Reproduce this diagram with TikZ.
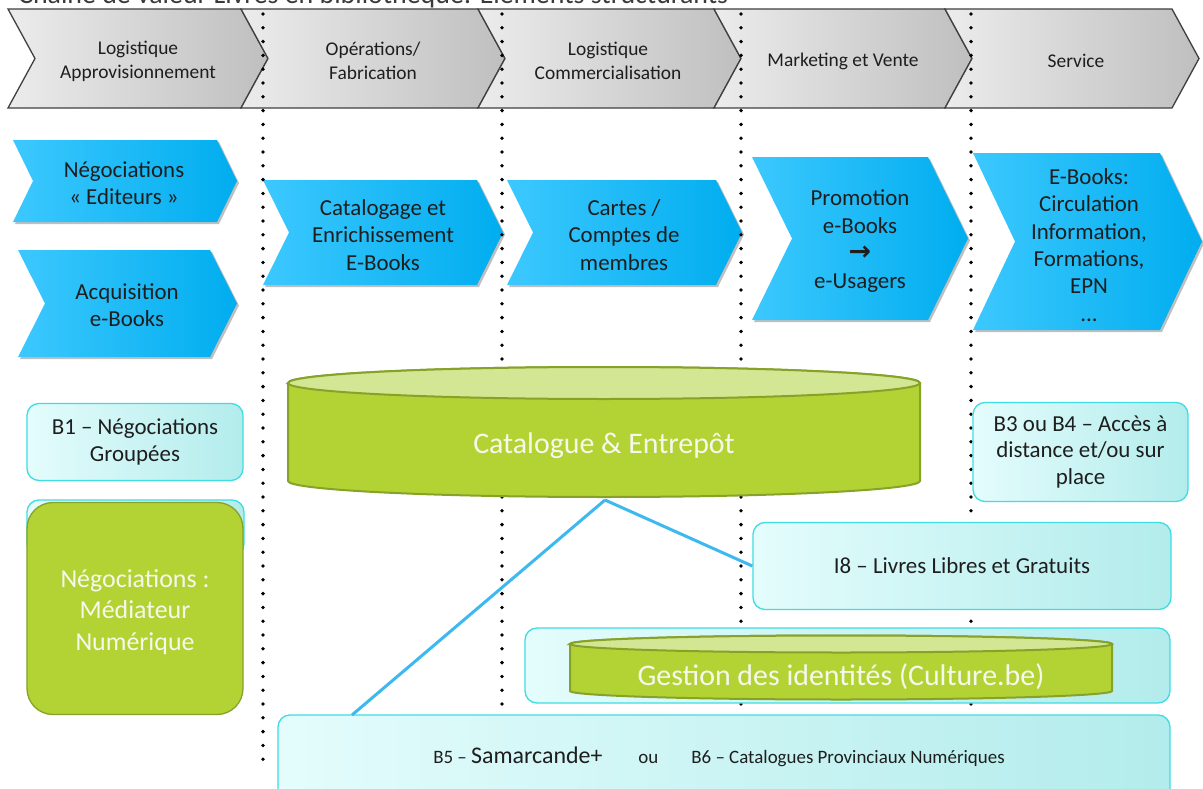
\documentclass[tikz,border=0pt]{standalone}
\usepackage{fontspec}
\setmainfont{Carlito}
\newfontfamily\symfont{DejaVu Sans}
\usetikzlibrary{shadows}
\definecolor{hdrA}{HTML}{ECECEC}
\definecolor{hdrB}{HTML}{BFBFBF}
\definecolor{hdrLine}{HTML}{404040}
\definecolor{blueA}{HTML}{3CC8FE}
\definecolor{blueB}{HTML}{00ADEF}
\definecolor{cyanA}{HTML}{E4FCFC}
\definecolor{cyanM}{HTML}{DAF9F9}
\definecolor{cyanB}{HTML}{B3ECEC}
\definecolor{cyanLine}{HTML}{3EDDE2}
\definecolor{greenF}{HTML}{B3D335}
\definecolor{greenTop}{HTML}{D3E694}
\definecolor{greenLine}{HTML}{86A229}
\definecolor{linkBlue}{HTML}{3DB9EF}
\definecolor{txt}{HTML}{1E1E1E}
\definecolor{titleGray}{HTML}{3A3A3A}
\definecolor{whiteTxt}{HTML}{F6F8EC}
\newcommand\chev[6]{%
  \draw[#6] (#1,#3) -- (#2,#3) -- ({#2+#5},{(#3+#4)/2}) -- (#2,#4) -- (#1,#4) -- ({#1+#5},{(#3+#4)/2}) -- cycle;}
\newcommand\cyl[5]{%
  \draw[cylbody] ({#1-#4},#2) -- ({#1-#4},#3) arc[start angle=180,end angle=360,x radius=#4bp,y radius=#5bp] -- ({#1+#4},#2) arc[start angle=0,end angle=180,x radius=#4bp,y radius=#5bp] -- cycle;
  \draw[cyltop] (#1,#2) ellipse[x radius=#4bp,y radius=#5bp];}
\begin{document}
\begin{tikzpicture}[x=1bp,y=-1bp,
  hdr/.style={draw=hdrLine,line width=1.3bp,left color=hdrA,right color=hdrB},
  bchev/.style={draw=none,left color=blueA,right color=blueB,
    drop shadow={shadow xshift=2bp,shadow yshift=-2bp,opacity=0.25,fill=black}},
  htext/.style={align=center,text=txt,font=\fontsize{19.5}{24}\selectfont,inner sep=0pt},
  btext/.style={align=center,text=txt,font=\fontsize{23}{27.5}\selectfont,inner sep=0pt},
  cbox/.style={draw=cyanLine,line width=1.3bp,rounded corners=12bp,left color=cyanA,middle color=cyanM,right color=cyanB,
    align=center,text=txt,font=\fontsize{23}{27}\selectfont,inner sep=0pt},
  gbox/.style={draw=greenLine,line width=1.3bp,rounded corners=26bp,fill=greenF,inner sep=0pt},
  gtext/.style={align=center,text=whiteTxt,font=\fontsize{26}{31.5}\selectfont,inner sep=0pt},
  cylbody/.style={draw=greenLine,line width=2bp,fill=greenF},
  cyltop/.style={draw=greenLine,line width=2bp,fill=greenTop},
  cyltext/.style={text=whiteTxt,font=\fontsize{30}{34}\selectfont,inner sep=0pt},
  dotline/.style={draw=black,line width=3.8bp,line cap=round,dash pattern=on 0bp off 13.8bp},
  link/.style={draw=linkBlue,line width=3bp}]
\useasboundingbox (0,0) rectangle (1203,789);
\fill[white] (0,0) rectangle (1203,789);
% title (cut at top edge, as in the reference)
\node[anchor=base west,inner sep=0pt,text=titleGray,font=\fontsize{28}{30}\selectfont] (title) at (18,4)
  {Chaîne de valeur Livres en bibliothèque: Eléments structurants};
% header chevrons
\chev{8}{241}{9}{108}{27}{hdr}
\chev{241}{478}{9}{108}{27}{hdr}
\chev{478}{714}{9}{108}{27}{hdr}
\chev{714}{945}{9}{108}{27}{hdr}
\chev{945}{1172}{9}{108}{27}{hdr}
\node[htext] (h1) at (138,61) {Logistique\\Approvisionnement};
\node[htext] (h2) at (373,61) {Opérations/\\Fabrication};
\node[htext] (h3) at (608,61) {Logistique\\Commercialisation};
\node[htext] (h4) at (843,61) {Marketing et Vente};
\node[htext] (h5) at (1076,61) {Service};
% blue chevrons
\chev{13}{217}{140}{222}{20}{bchev}
\chev{18}{210}{250}{357}{27}{bchev}
\chev{263}{477}{180}{285}{26}{bchev}
\chev{507}{716}{180}{285}{26}{bchev}
\chev{752}{928}{157}{320}{40}{bchev}
\chev{973}{1160}{153}{330}{42}{bchev}
\node[btext] (c1) at (124,183) {Négociations\\« Editeurs »};
\node[btext] (c2) at (127,305) {Acquisition\\e-Books};
\node[btext] (c3) at (383,235) {Catalogage et\\Enrichissement\\E-Books};
\node[btext] (c4) at (624,235) {Cartes /\\Comptes de\\membres};
\node[btext] (c5) at (860,241) {Promotion\\e-Books\\{\symfont\bfseries\fontsize{27}{27.5}\selectfont →}\\e-Usagers};
\node[btext] (c6) at (1089,245) {E-Books:\\Circulation\\Information,\\Formations,\\EPN\\...};
% dotted separators
\foreach \x in {263,502,741,971} \draw[dotline] (\x,14) -- (\x,766);
% left column
\node[cbox,minimum width=216bp,minimum height=77bp] (b1) at (135,442) {B1 – Négociations\\Groupées};
\node[cbox,minimum width=217bp,minimum height=56bp] (b2) at (135.5,528) {};
\node[gbox,minimum width=216bp,minimum height=212bp] (med) at (135,608.5) {};
\node[gtext] (medt) at (135,612) {Négociations :\\Médiateur\\Numérique};
% right boxes
\node[cbox,minimum width=215bp,minimum height=99bp] (b34) at (1080.5,452) {B3 ou B4 – Accès à\\distance et/ou sur\\place};
\node[cbox,minimum width=418bp,minimum height=87bp] (i8) at (962,566) {I8 – Livres Libres et Gratuits};
\node[cbox,minimum width=645bp,minimum height=75bp] (gbx) at (847.5,665.5) {};
\node[cbox,minimum width=892bp,minimum height=100bp] (b5) at (724,765) {};
\node[text=txt,inner sep=0pt,anchor=base] (b5t) at (719,763)
  {{\fontsize{19}{22}\selectfont B5 – }{\fontsize{24}{22}\selectfont Samarcande+}\hspace{36bp}{\fontsize{19}{22}\selectfont ou}\hspace{33bp}{\fontsize{19}{22}\selectfont B6 – Catalogues Provinciaux Numériques}};
% cylinders
\cyl{604}{383}{481}{316}{16}
\node[cyltext] (cat) at (604,446) {Catalogue \& Entrepôt};
\cyl{841}{644}{691}{271}{8.5}
\node[cyltext] (gest) at (841,677) {Gestion des identités (Culture.be)};
% connectors
\coordinate (catbot) at (605,500);
\coordinate (b5hit) at (352,715);
\draw[link] (catbot) -- (b5hit);
\draw[link] (catbot) -- (i8.west);
\end{tikzpicture}
\end{document}
